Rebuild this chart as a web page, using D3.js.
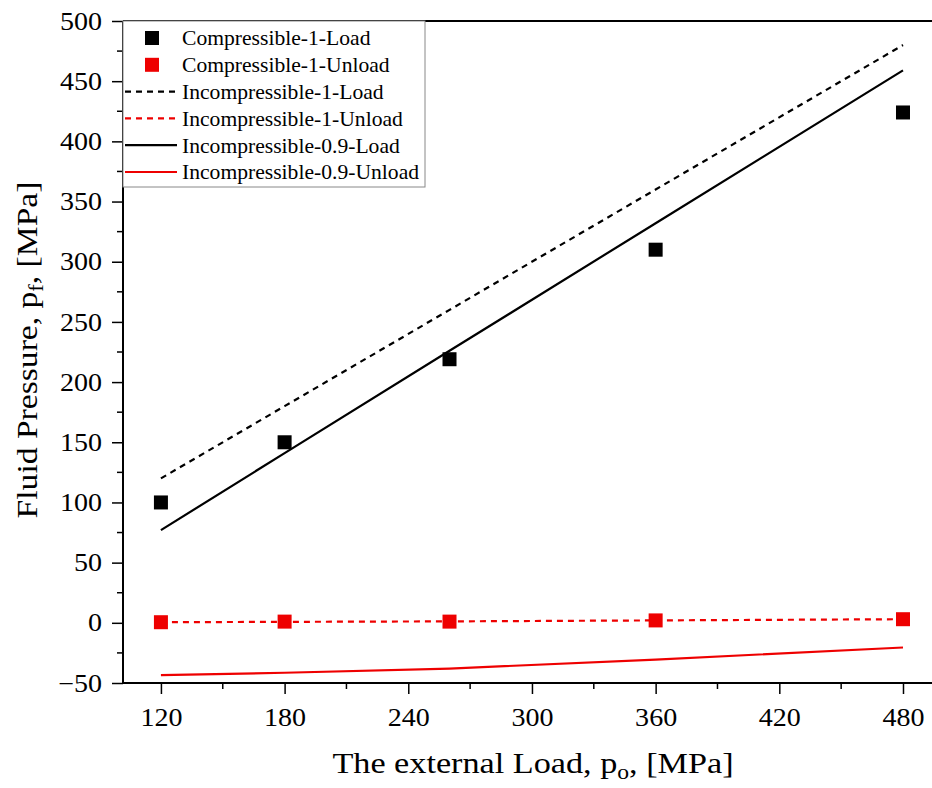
<!DOCTYPE html>
<html><head><meta charset="utf-8">
<script src="https://cdn.jsdelivr.net/npm/d3@7"></script>
<style>body{margin:0;background:#fff}svg{display:block}</style>
</head><body>
<svg id="c" width="932" height="788"></svg>
<script>
const loadX = [120, 180, 260, 360, 480];
const comp1Load = [100, 150, 219, 310, 424];
const comp1Unload = [0.5, 1, 1, 2, 3];
const incomp1Load = [120, 180, 260, 360, 480];
const incomp1Unload = [0.5, 0.8, 1.2, 2, 3];
const incomp09Load = [77, 141, 226, 332, 459];
const incomp09Unload = [-43.5, -41.5, -38, -30.5, -20.5];
const xTicks = [120, 180, 240, 300, 360, 420, 480];
const yTicks = [-50, 0, 50, 100, 150, 200, 250, 300, 350, 400, 450, 500];
const legendLabels = ["Compressible-1-Load","Compressible-1-Unload","Incompressible-1-Load","Incompressible-1-Unload","Incompressible-0.9-Load","Incompressible-0.9-Unload"];

const svg = d3.select("#c");
const L = 123, T = 21, B = 683, R = 936;
const x = d3.scaleLinear().domain([101.6, 120 + (R - 161) / 2.0611]).range([L, R]);
const y = d3.scaleLinear().domain([-50, 500]).range([B, T]);
const font = "'Liberation Serif','Times New Roman',serif";
const SX = 1.1;

// frame
svg.append("line").attr("x1", L).attr("x2", R).attr("y1", T).attr("y2", T).attr("stroke", "#000").attr("stroke-width", 2);

const xMinor = d3.range(90, 500, 30).filter(v => v > 101.6 && !xTicks.includes(v));
const yMinor = d3.range(-25, 500, 50);

const gx = svg.append("g").attr("transform", `translate(0,${B})`);
gx.call(d3.axisBottom(x).tickValues(xTicks).tickSize(11).tickPadding(14).tickFormat(d3.format("d")));
gx.selectAll(".minor").data(xMinor).enter().append("line").attr("x1", d => x(d)).attr("x2", d => x(d)).attr("y1", 0).attr("y2", 6).attr("stroke", "#000").attr("stroke-width", 1.5);

const gy = svg.append("g").attr("transform", `translate(${L},0)`);
gy.call(d3.axisLeft(y).tickValues(yTicks).tickSize(11).tickPadding(10).tickFormat(d3.format("d")));
gy.selectAll(".minor").data(yMinor).enter().append("line").attr("y1", d => y(d)).attr("y2", d => y(d)).attr("x1", 0).attr("x2", -6).attr("stroke", "#000").attr("stroke-width", 1.5);

[gx, gy].forEach(g => {
  g.selectAll(".tick line").attr("stroke-width", 1.5);
  g.selectAll("text").attr("font-family", font).attr("font-size", 25.5).attr("fill", "#000")
    .attr("transform", `scale(${SX},1)`);
});
gy.selectAll(".tick text").attr("x", -21 / SX);
gx.select(".domain").attr("stroke-width", 2).attr("d", `M${L},0H${R}`);
gy.select(".domain").attr("stroke-width", 2).attr("d", `M0,${T}V${B}`);

// lines
const line = d3.line().x((d, i) => x(loadX[i])).y(d => y(d));
function drawLine(data, color, dash) {
  svg.append("path").attr("d", line(data)).attr("fill", "none").attr("stroke", color)
    .attr("stroke-width", 2.2).attr("stroke-dasharray", dash || null);
}
drawLine(incomp1Load, "#000", "6,5");
drawLine(incomp1Unload, "#ee0000", "6,5");
drawLine(incomp09Load, "#000");
drawLine(incomp09Unload, "#ee0000");

function drawSquares(data, color) {
  svg.append("g").selectAll("rect").data(data).enter().append("rect")
    .attr("x", (d, i) => x(loadX[i]) - 7).attr("y", d => y(d) - 7)
    .attr("width", 14).attr("height", 14).attr("fill", color);
}
drawSquares(comp1Load, "#000");
drawSquares(comp1Unload, "#ee0000");

// legend
const lg = svg.append("g");
lg.append("rect").attr("x", L).attr("y", T).attr("width", 302).attr("height", 166)
  .attr("fill", "#fff").attr("stroke", "#888").attr("stroke-width", 1);
const styles = [
  {t: "sq", c: "#000"}, {t: "sq", c: "#ee0000"},
  {t: "ln", c: "#000", d: "6,5"}, {t: "ln", c: "#ee0000", d: "6,5"},
  {t: "ln", c: "#000"}, {t: "ln", c: "#ee0000"}
];
legendLabels.forEach((lab, i) => {
  const cy = 38 + i * 26.8;
  const s = styles[i];
  if (s.t === "sq") {
    lg.append("rect").attr("x", 145).attr("y", cy - 7).attr("width", 14).attr("height", 14).attr("fill", s.c);
  } else {
    lg.append("line").attr("x1", 125).attr("x2", 177).attr("y1", cy).attr("y2", cy)
      .attr("stroke", s.c).attr("stroke-width", 2.2).attr("stroke-dasharray", s.d || null);
  }
  lg.append("text").attr("transform", `translate(182,${cy}) scale(1.03,1)`).attr("dy", "0.35em")
    .attr("font-family", font).attr("font-size", 21).text(lab);
});

// axis titles
const xt = svg.append("text").attr("transform", "translate(533,773) scale(1.18,1)").attr("text-anchor", "middle")
  .attr("font-family", font).attr("font-size", 29);
xt.append("tspan").text("The external Load, p");
xt.append("tspan").attr("font-size", 20).attr("dy", 6).text("o");
xt.append("tspan").attr("dy", -6).text(", [MPa]");

const yt = svg.append("text").attr("transform", "translate(37,350) rotate(-90) scale(1.12,1)").attr("text-anchor", "middle")
  .attr("font-family", font).attr("font-size", 30);
yt.append("tspan").text("Fluid Pressure, p");
yt.append("tspan").attr("font-size", 20).attr("dy", 6).text("f");
yt.append("tspan").attr("dy", -6).text(", [MPa]");
</script>
</body></html>
